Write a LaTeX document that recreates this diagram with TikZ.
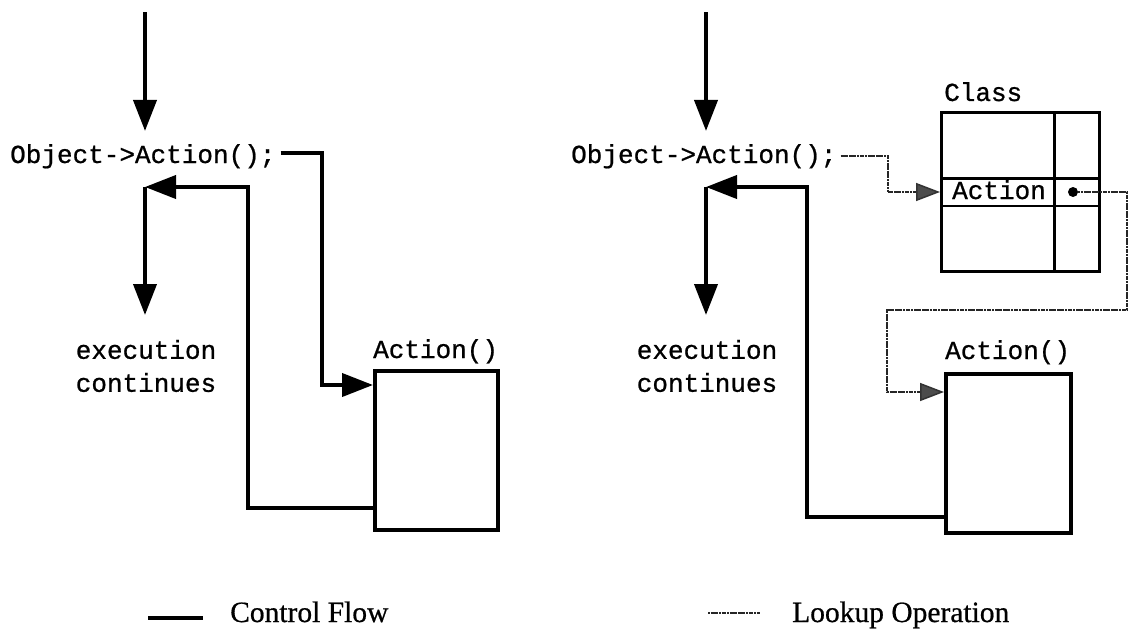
\documentclass[tikz,border=0pt]{standalone}
\usepackage{fontspec}
\setmainfont{Liberation Serif}[FakeBold=0.6]
\newfontfamily\codefont{Liberation Mono}[FakeBold=0.8]
\usetikzlibrary{arrows.meta}

\tikzset{
  code/.style={font=\codefont\fontsize{26}{33}\selectfont, inner sep=0pt},
  legendtext/.style={font=\fontsize{29.5}{33}\selectfont, inner sep=0pt, anchor=base west},
  box/.style={draw, line width=3.5pt, anchor=north west, inner sep=0pt},
  flow/.style={line width=4pt, line join=miter},
  flowtip/.style={-{Triangle[length=31pt,width=23pt]}},
  lookup/.style={line width=2.6pt, black!85, dash pattern=on 2.2pt off 0.5pt},
  looktip/.style={-{Triangle[length=24pt,width=18pt,fill=black!70,color=black!80,line width=1.5pt]}},
}

\begin{document}
\begin{tikzpicture}[x=1pt, y=-1pt]
\useasboundingbox (0,0) rectangle (1129,637);

% ---------------- direct call (left) ----------------
\node[code, anchor=base west] (callL) at (10,163) {Object->Action();};
\node[code, anchor=base west] (actLabL) at (373,358) {Action()};
\node[box, minimum width=123pt, minimum height=159pt] (actL) at (373,369) {};
\node[code, align=center] (contL) at (146,366) {execution\\continues};

\coordinate (inL) at (145,12);
\coordinate (retL) at (145,187);
\coordinate (outL) at (145,315);

\draw[flow, flowtip] (inL) -- ([yshift=13pt]callL.north -| inL);
\draw[flow, flowtip] ([xshift=5pt]callL.base east) ++(0,-10) -| (322,385) -- (actL.west |- 0,385);
\draw[flow, flowtip] (actL.west |- 0,508) -- (248,508) -- (248,187) -- (retL);
\draw[flow, flowtip] (retL) -- (outL);

% ---------------- call through class lookup (right) ----------------
\node[code, anchor=base west] (callR) at (571,163) {Object->Action();};
\node[code, anchor=base west] (clsLab) at (944,101) {Class};
\node[box, line width=3pt, minimum width=158pt, minimum height=159pt] (cls) at (940,111) {};
\draw[line width=3pt] (1054,111) -- (1054,270);
\draw[line width=3pt] (940,178) -- (1098,178);
\draw[line width=2.5pt] (940,206) -- (1098,206);
\node[code, anchor=base west] (clsAct) at (952,199) {Action};
\node[circle, fill, inner sep=0pt, minimum size=10pt] (ptr) at (1073,192) {};

\node[code, anchor=base west] (actLabR) at (945,359) {Action()};
\node[box, minimum width=125pt, minimum height=159pt] (actR) at (944,372) {};
\node[code, align=center] (contR) at (707,366) {execution\\continues};

\coordinate (inR) at (706,12);
\coordinate (retR) at (706,187);
\coordinate (outR) at (706,315);

\draw[flow, flowtip] (inR) -- ([yshift=13pt]callR.north -| inR);
\draw[flow, flowtip] (actR.west |- 0,517) -- (807,517) -- (807,187) -- (retR);
\draw[flow, flowtip] (retR) -- (outR);

% lookup through the class table
\draw[lookup, looktip] ([xshift=4pt]callR.base east) ++(0,-7) -| (888,192) -- (cls.west |- 0,192);
\draw[lookup, looktip] (ptr) -- (1127,192) -- (1127,310) -- (887,310) -- (887,392) -- (actR.west |- 0,392);

% ---------------- legend ----------------
\coordinate (lgA1) at (148,618);
\coordinate (lgA2) at (203,618);
\draw[flow] (lgA1) -- (lgA2);
\node[legendtext] (lgAtext) at (230,622) {Control Flow};

\coordinate (lgB1) at (708,613);
\coordinate (lgB2) at (760,613);
\draw[lookup] (lgB1) -- (lgB2);
\node[legendtext] (lgBtext) at (792,622) {Lookup Operation};
\end{tikzpicture}
\end{document}
